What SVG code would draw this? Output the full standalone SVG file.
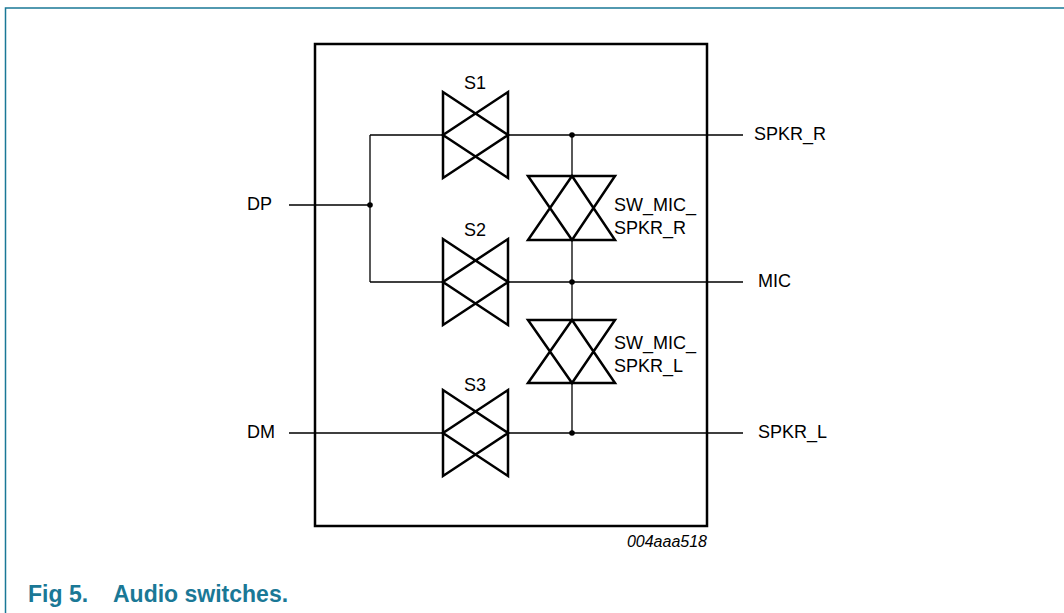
<svg xmlns="http://www.w3.org/2000/svg" width="1064" height="613" viewBox="0 0 1064 613">
<style>
.frame{fill:none;stroke:#1a7896;stroke-width:1.5}
.box{fill:none;stroke:#000;stroke-width:2.5}
.sw{fill:none;stroke:#000;stroke-width:2.5;stroke-linejoin:miter}
.wire{fill:none;stroke:#000;stroke-width:1.3}
.dot{fill:#000}
text{font-family:"Liberation Sans",Arial,sans-serif;fill:#000}
.lbl{font-size:18px}
.title{font-size:23px;font-weight:bold;fill:#1a7896}
.code{font-size:16px;font-style:italic}
</style>
<rect width="1064" height="613" fill="#fff"/>
<path class="frame" d="M1064,8 H5.5 V613"/>
<g id="chip"><rect class="box" x="315" y="44" width="392" height="482"/></g>
<g id="connectors">
<path class="wire" d="M289,205 H370 M370,135 V282 M370,135 H443 M370,282 H443"/>
<path class="wire" d="M508,135 H743 M508,282 H743 M289,433 H443 M508,433 H743"/>
<path class="wire" d="M572,135 V176 M572,240 V320 M572,383 V433"/>
<circle class="dot" cx="370" cy="205" r="2.8"/>
<circle class="dot" cx="572" cy="135" r="2.8"/>
<circle class="dot" cx="572" cy="282" r="2.8"/>
<circle class="dot" cx="572" cy="433" r="2.8"/>
</g>
<g id="S1">
<path class="sw" d="M443,92 L443,178 L508,135 Z M508,92 L508,178 L443,135 Z"/>
<text class="lbl" x="475" y="89" text-anchor="middle">S1</text>
</g>
<g id="S2">
<path class="sw" d="M443,239 L443,325 L508,282 Z M508,239 L508,325 L443,282 Z"/>
<text class="lbl" x="475" y="236" text-anchor="middle">S2</text>
</g>
<g id="S3">
<path class="sw" d="M443,390 L443,476 L508,433 Z M508,390 L508,476 L443,433 Z"/>
<text class="lbl" x="475" y="391" text-anchor="middle">S3</text>
</g>
<g id="SW_MIC_SPKR_R">
<path class="sw" d="M528,176 H615 L572,240 Z M528,240 H615 L572,176 Z"/>
<text class="lbl" x="614" y="211">SW_MIC_</text>
<text class="lbl" x="614" y="234">SPKR_R</text>
</g>
<g id="SW_MIC_SPKR_L">
<path class="sw" d="M528,320 H615 L572,383 Z M528,383 H615 L572,320 Z"/>
<text class="lbl" x="614" y="349">SW_MIC_</text>
<text class="lbl" x="614" y="372">SPKR_L</text>
</g>
<g id="pins">
<text class="lbl" x="247" y="210">DP</text>
<text class="lbl" x="247" y="438">DM</text>
<text class="lbl" x="754" y="140">SPKR_R</text>
<text class="lbl" x="758" y="287">MIC</text>
<text class="lbl" x="758" y="438">SPKR_L</text>
</g>
<text class="code" x="707" y="547" text-anchor="end">004aaa518</text>
<text class="title" x="28" y="602">Fig 5.</text>
<text class="title" x="113" y="602">Audio switches.</text>
</svg>
